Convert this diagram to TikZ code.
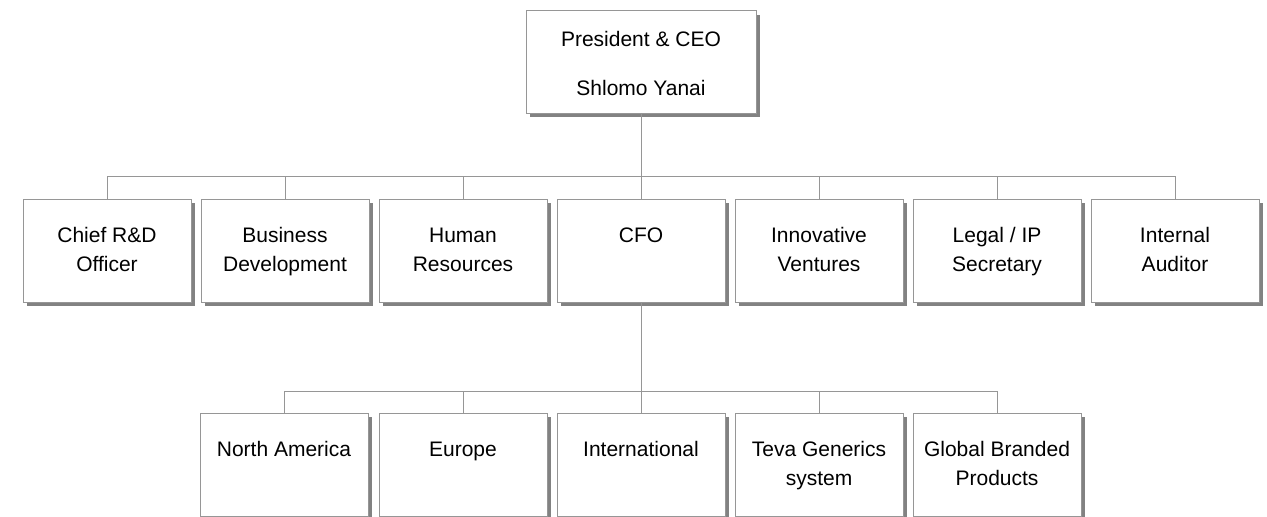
\documentclass[tikz,border=0pt]{standalone}
\usepackage{fontspec}
\setmainfont{Liberation Sans}
\usetikzlibrary{shadows}

\begin{document}
\begin{tikzpicture}[x=0.75pt,y=0.75pt,yscale=-1,xscale=1,
  unit/.style={draw={rgb, 255:red, 150; green, 150; blue, 150 }, fill=white, line width=0.75pt, inner sep=0pt,
    minimum width=126pt, minimum height=77.25pt,
    drop shadow={shadow xshift=3pt, shadow yshift=-3pt, fill={rgb, 255:red, 130; green, 130; blue, 130 }, opacity=1}},
  link/.style={draw={rgb, 255:red, 150; green, 150; blue, 150 }, line width=0.75pt},
  txt/.style={anchor=base, inner sep=0.75pt, align=center, font=\fontsize{15.75}{21.75}\selectfont}]
        \useasboundingbox (0,0) rectangle (1267,517);

        %Straight Lines
        \coordinate (busA) at (641,176);
        \coordinate (busB) at (641,391);

        %Shape: Rectangle
        \node[unit, minimum width=172.5pt, minimum height=76.5pt] (ceo) at (641,62) {};
        % second row
        \node[unit] (chiefrd) at (107,250.5) {};
        \node[unit] (bizdev) at (285,250.5) {};
        \node[unit] (hr) at (463,250.5) {};
        \node[unit] (cfo) at (641,250.5) {};
        \node[unit] (ventures) at (819,250.5) {};
        \node[unit] (legal) at (997,250.5) {};
        \node[unit] (auditor) at (1175,250.5) {};
        % third row
        \node[unit] (namerica) at (284,464.5) {};
        \node[unit] (europe) at (463,464.5) {};
        \node[unit] (intl) at (641,464.5) {};
        \node[unit] (generics) at (819,464.5) {};
        \node[unit] (branded) at (997,464.5) {};

        %Straight Lines
        \draw[link] (ceo) -- (busA);
        \foreach \n in {chiefrd,bizdev,hr,cfo,ventures,legal,auditor}
          \draw[link] (busA) -| (\n);
        \draw[link] (cfo) -- (busB);
        \foreach \n in {namerica,europe,intl,generics,branded}
          \draw[link] (busB) -| (\n);

        % Text Node (base = last line)
        \node[txt] (tceo) at (641,95) {President \& CEO\\[14.25pt]Shlomo Yanai};
        % Text Node
        \node[txt] (tchiefrd) at (107,271) {Chief R\&D\\Officer};
        % Text Node
        \node[txt] (tbizdev) at (285,271) {Business\\Development};
        % Text Node
        \node[txt] (thr) at (463,271) {Human\\Resources};
        % Text Node
        \node[txt] (tcfo) at (641,242) {CFO};
        % Text Node
        \node[txt] (tventures) at (819,271) {Innovative\\Ventures};
        % Text Node
        \node[txt] (tlegal) at (997,271) {Legal / IP\\Secretary};
        % Text Node
        \node[txt] (tauditor) at (1175,271) {Internal\\Auditor};
        % Text Node
        \node[txt] (tnamerica) at (284,456.5) {North America};
        % Text Node
        \node[txt] (teurope) at (463,456.5) {Europe};
        % Text Node
        \node[txt] (tintl) at (641,456.5) {International};
        % Text Node
        \node[txt] (tgenerics) at (819,485.5) {Teva Generics\\system};
        % Text Node
        \node[txt] (tbranded) at (997,485.5) {Global Branded\\Products};

\end{tikzpicture}
\end{document}
